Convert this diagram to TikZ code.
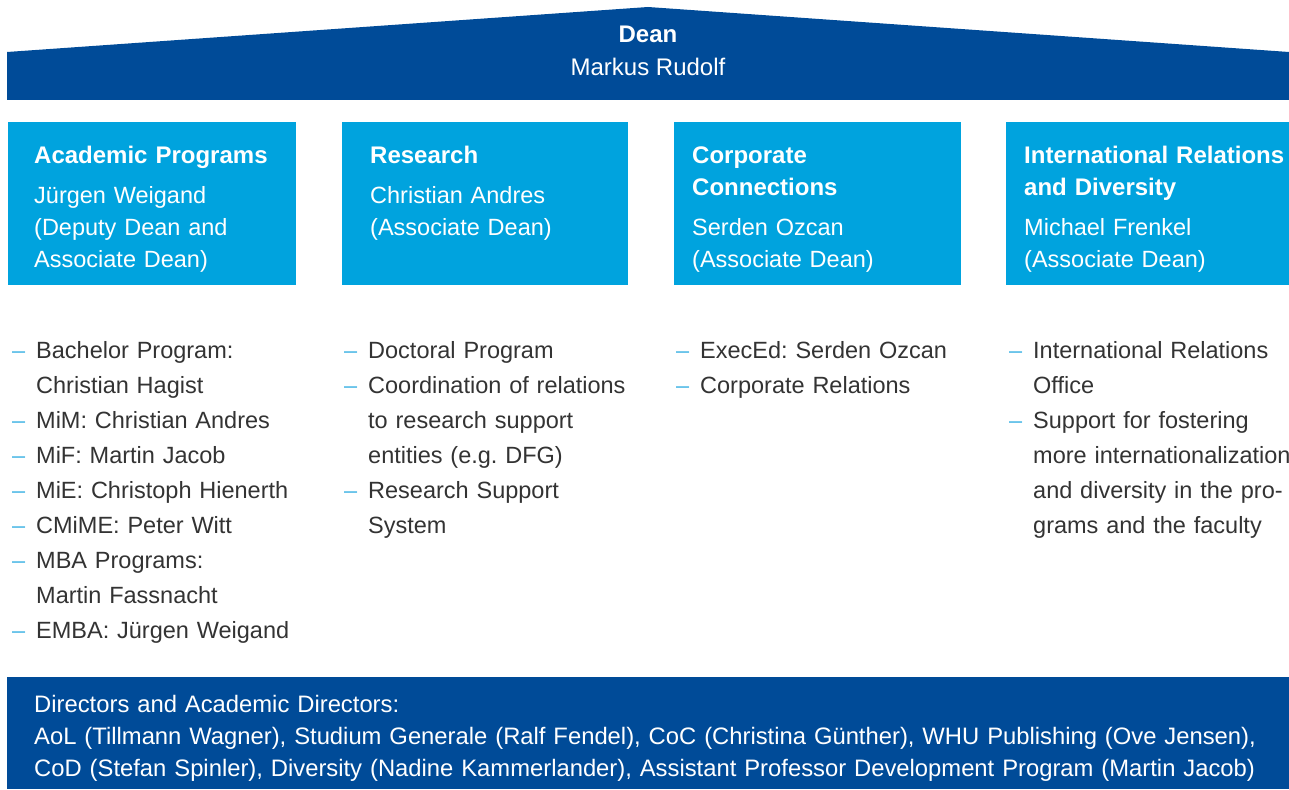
\documentclass[tikz,border=0pt]{standalone}
\usepackage{fontspec}
\setmainfont{Liberation Sans}
\definecolor{darkblue}{HTML}{004B98}
\definecolor{lightblue}{HTML}{00A3DE}
\definecolor{dashblue}{HTML}{4DB8E6}
\definecolor{txtgray}{HTML}{333333}
\newcommand\itm{\leavevmode\llap{\textcolor{dashblue}{–}\hspace{11pt}}}
\frenchspacing
\begin{document}
\begin{tikzpicture}[x=1pt,y=-1pt,
  boxfill/.style={fill=lightblue,draw=none},
  headtxt/.style={anchor=base west,inner sep=0pt,text=white,align=left,text width=280pt,
     font=\bfseries\fontsize{24}{32}\selectfont},
  nametxt/.style={anchor=base west,inner sep=0pt,text=white,align=left,text width=280pt,
     font=\fontsize{23.5}{32}\selectfont},
  listtxt/.style={anchor=base west,inner sep=0pt,text=txtgray,align=left,text width=300pt,
     font=\fontsize{23.5}{35}\selectfont},
  bottomtxt/.style={anchor=base west,inner sep=0pt,text=white,align=left,text width=1260pt,
     font=\fontsize{23.8}{32}\selectfont}]
\useasboundingbox (0,0) rectangle (1289,789);
% Dean banner
\fill[darkblue] (7,100) -- (7,52) -- (648,7) -- (1289,52) -- (1289,100) -- cycle;
\node[anchor=base,inner sep=0pt,text=white,font=\bfseries\fontsize{24}{28}\selectfont] (dean) at (648,43) {Dean};
\node[anchor=base,inner sep=0pt,text=white,font=\fontsize{24}{28}\selectfont] (rudolf) at (648,76) {Markus Rudolf};
% boxes
\fill[boxfill] (8,122) rectangle (296,285);
\fill[boxfill] (342,122) rectangle (628,285);
\fill[boxfill] (674,122) rectangle (961,285);
\fill[boxfill] (1006,122) rectangle (1289,285);
% box texts
\node[headtxt] (h1) at (34,163) {Academic Programs};
\node[nametxt] (n1) at (34,203) {Jürgen Weigand\\(Deputy Dean and\\Associate Dean)};
\node[headtxt] (h2) at (370,163) {Research};
\node[nametxt] (n2) at (370,203) {Christian Andres\\(Associate Dean)};
\node[headtxt] (h3) at (692,163) {Corporate\\Connections};
\node[nametxt] (n3) at (692,235) {Serden Ozcan\\(Associate Dean)};
\node[headtxt] (h4) at (1024,163) {International Relations\\and Diversity};
\node[nametxt] (n4) at (1024,235) {Michael Frenkel\\(Associate Dean)};
% lists
\node[listtxt] (l1) at (36,358) {\itm Bachelor Program:\\Christian Hagist\\\itm MiM: Christian Andres\\\itm MiF: Martin Jacob\\\itm MiE: Christoph Hienerth\\\itm CMiME: Peter Witt\\\itm MBA Programs:\\Martin Fassnacht\\\itm EMBA: Jürgen Weigand};
\node[listtxt] (l2) at (368,358) {\itm Doctoral Program\\\itm Coordination of relations\\to research support\\entities (e.g. DFG)\\\itm Research Support\\System};
\node[listtxt] (l3) at (700,358) {\itm ExecEd: Serden Ozcan\\\itm Corporate Relations};
\node[listtxt] (l4) at (1033,358) {\itm International Relations\\Office\\\itm Support for fostering\\more internationalization\\and diversity in the pro-\\grams and the faculty};
% bottom
\fill[darkblue] (7,677) rectangle (1289,789);
\node[bottomtxt] (dirs) at (34,712) {Directors and Academic Directors:\\AoL (Tillmann Wagner), Studium Generale (Ralf Fendel), CoC (Christina Günther), WHU Publishing (Ove Jensen),\\CoD (Stefan Spinler), Diversity (Nadine Kammerlander), Assistant Professor Development Program (Martin Jacob)};
\end{tikzpicture}
\end{document}
